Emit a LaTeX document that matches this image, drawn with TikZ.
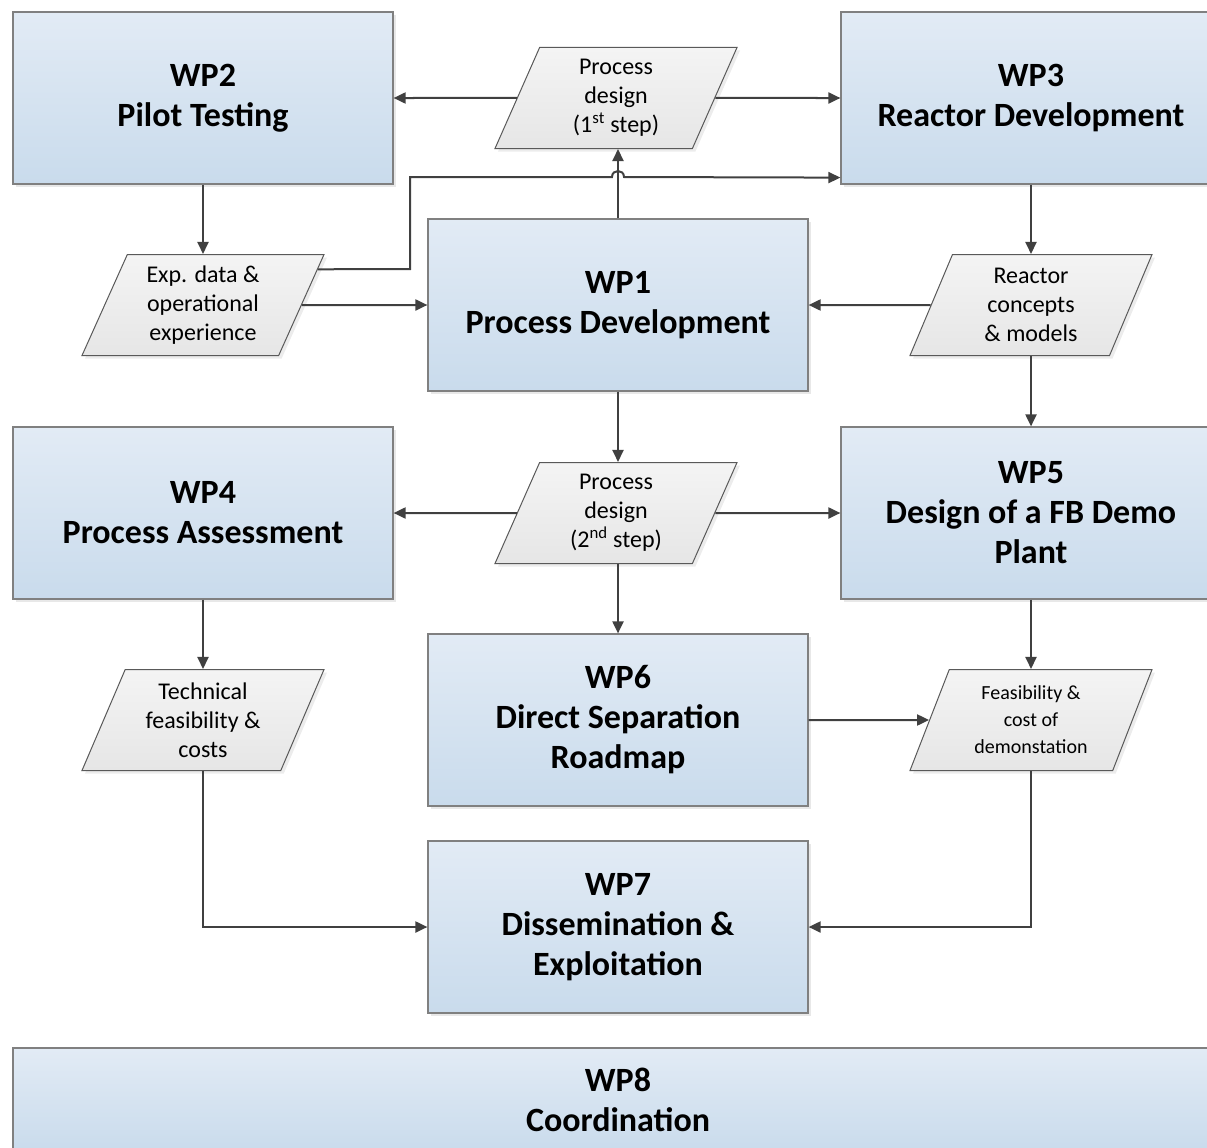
\documentclass[tikz,border=0pt]{standalone}
\usepackage{fontspec}
\setmainfont{Carlito}
\usetikzlibrary{shapes.geometric,shadows,arrows.meta,calc}

\definecolor{wpTop}{HTML}{E2EBF5}
\definecolor{wpBottom}{HTML}{C9DBEC}
\definecolor{wpLine}{HTML}{808080}
\definecolor{dataTop}{HTML}{F4F4F4}
\definecolor{dataBottom}{HTML}{E6E6E6}
\definecolor{dataLine}{HTML}{595959}
\definecolor{flowGray}{HTML}{404040}

\tikzset{
  wp/.style={rectangle, draw=wpLine, line width=1.2pt, top color=wpTop, bottom color=wpBottom,
    minimum width=380pt, minimum height=172pt, align=center,
    font=\fontsize{34}{40}\selectfont\bfseries,
    drop shadow={shadow xshift=3pt, shadow yshift=-3pt, fill=black!18}},
  data/.style={trapezium, trapezium left angle=60, trapezium right angle=120,
    trapezium stretches body, minimum width=242pt, minimum height=101pt, inner sep=0pt,
    draw=dataLine, line width=1pt, top color=dataTop, bottom color=dataBottom, align=center,
    font=\fontsize{24}{29}\selectfont,
    drop shadow={shadow xshift=3pt, shadow yshift=-3pt, fill=black!15}},
  flow/.style={draw=flowGray, line width=2pt, ->}
}

\begin{document}
\begin{tikzpicture}[x=1pt, y=-1pt, >={Triangle[length=12pt,width=11pt]}]
  \useasboundingbox (0,0) rectangle (1207,1148);
  \clip (0,0) rectangle (1207,1148);

  % work packages
  \node[wp] (wp2) at (203,98) {WP2\\Pilot Testing};
  \node[wp] (wp3) at (1031,98) {WP3\\Reactor Development};
  \node[wp] (wp1) at (618,305) {WP1\\Process Development};
  \node[wp] (wp4) at (203,513) {WP4\\Process Assessment};
  \node[wp] (wp5) at (1031,513) {WP5\\Design of a FB Demo\\Plant};
  \node[wp] (wp6) at (618,720) {WP6\\Direct Separation\\Roadmap};
  \node[wp] (wp7) at (618,927) {WP7\\Dissemination \&\\Exploitation};
  \node[wp, minimum width=1210pt, minimum height=104pt] (wp8) at (618,1100) {WP8\\Coordination};

  % results
  \node[data] (pd1) at (616,98) {Process\\design\\(1\textsuperscript{st} step)};
  \node[data] (exp) at (203,305) {Exp. data \&\\operational\\experience};
  \node[data] (reac) at (1031,305) {Reactor\\concepts\\\& models};
  \node[data] (pd2) at (616,513) {Process\\design\\(2\textsuperscript{nd} step)};
  \node[data] (tech) at (203,720) {Technical\\feasibility \&\\costs};
  \node[data, font=\fontsize{20}{27}\selectfont] (feas) at (1031,720) {Feasibility \&\\cost of\\demonstation};

  \coordinate (expout) at ($(exp.top right corner)!0.15!(exp.bottom right corner)$);

  % flows
  \draw[flow] (pd1) -- (wp2);
  \draw[flow] (pd1) -- (wp3);
  \draw[flow] (wp1.north) -- (wp1.north |- pd1.south);
  \draw[flow] (expout) -- (410,269) -- (410,177) -- (612,177)
    .. controls (612,169) and (624,169) .. (624,177) -- ([yshift=7pt]wp3.south west);
  \draw[flow] (exp.east) -- (wp1.west);
  \draw[flow] (wp2.south) -- (wp2.south |- exp.north);
  \draw[flow] (wp3.south) -- (wp3.south |- reac.north);
  \draw[flow] (reac.west) -- (wp1.east);
  \draw[flow] (wp5.north |- reac.south) -- (wp5.north);
  \draw[flow] (wp1.south) -- (wp1.south |- pd2.north);
  \draw[flow] (pd2) -- (wp4);
  \draw[flow] (pd2) -- (wp5);
  \draw[flow] (wp6.north |- pd2.south) -- (wp6.north);
  \draw[flow] (wp4.south) -- (wp4.south |- tech.north);
  \draw[flow] (wp6.east) -- (feas.west);
  \draw[flow] (wp5.south) -- (wp5.south |- feas.north);
  \draw[flow] (wp4.south |- tech.south) |- (wp7.west);
  \draw[flow] (wp5.south |- feas.south) |- (wp7.east);
\end{tikzpicture}
\end{document}
